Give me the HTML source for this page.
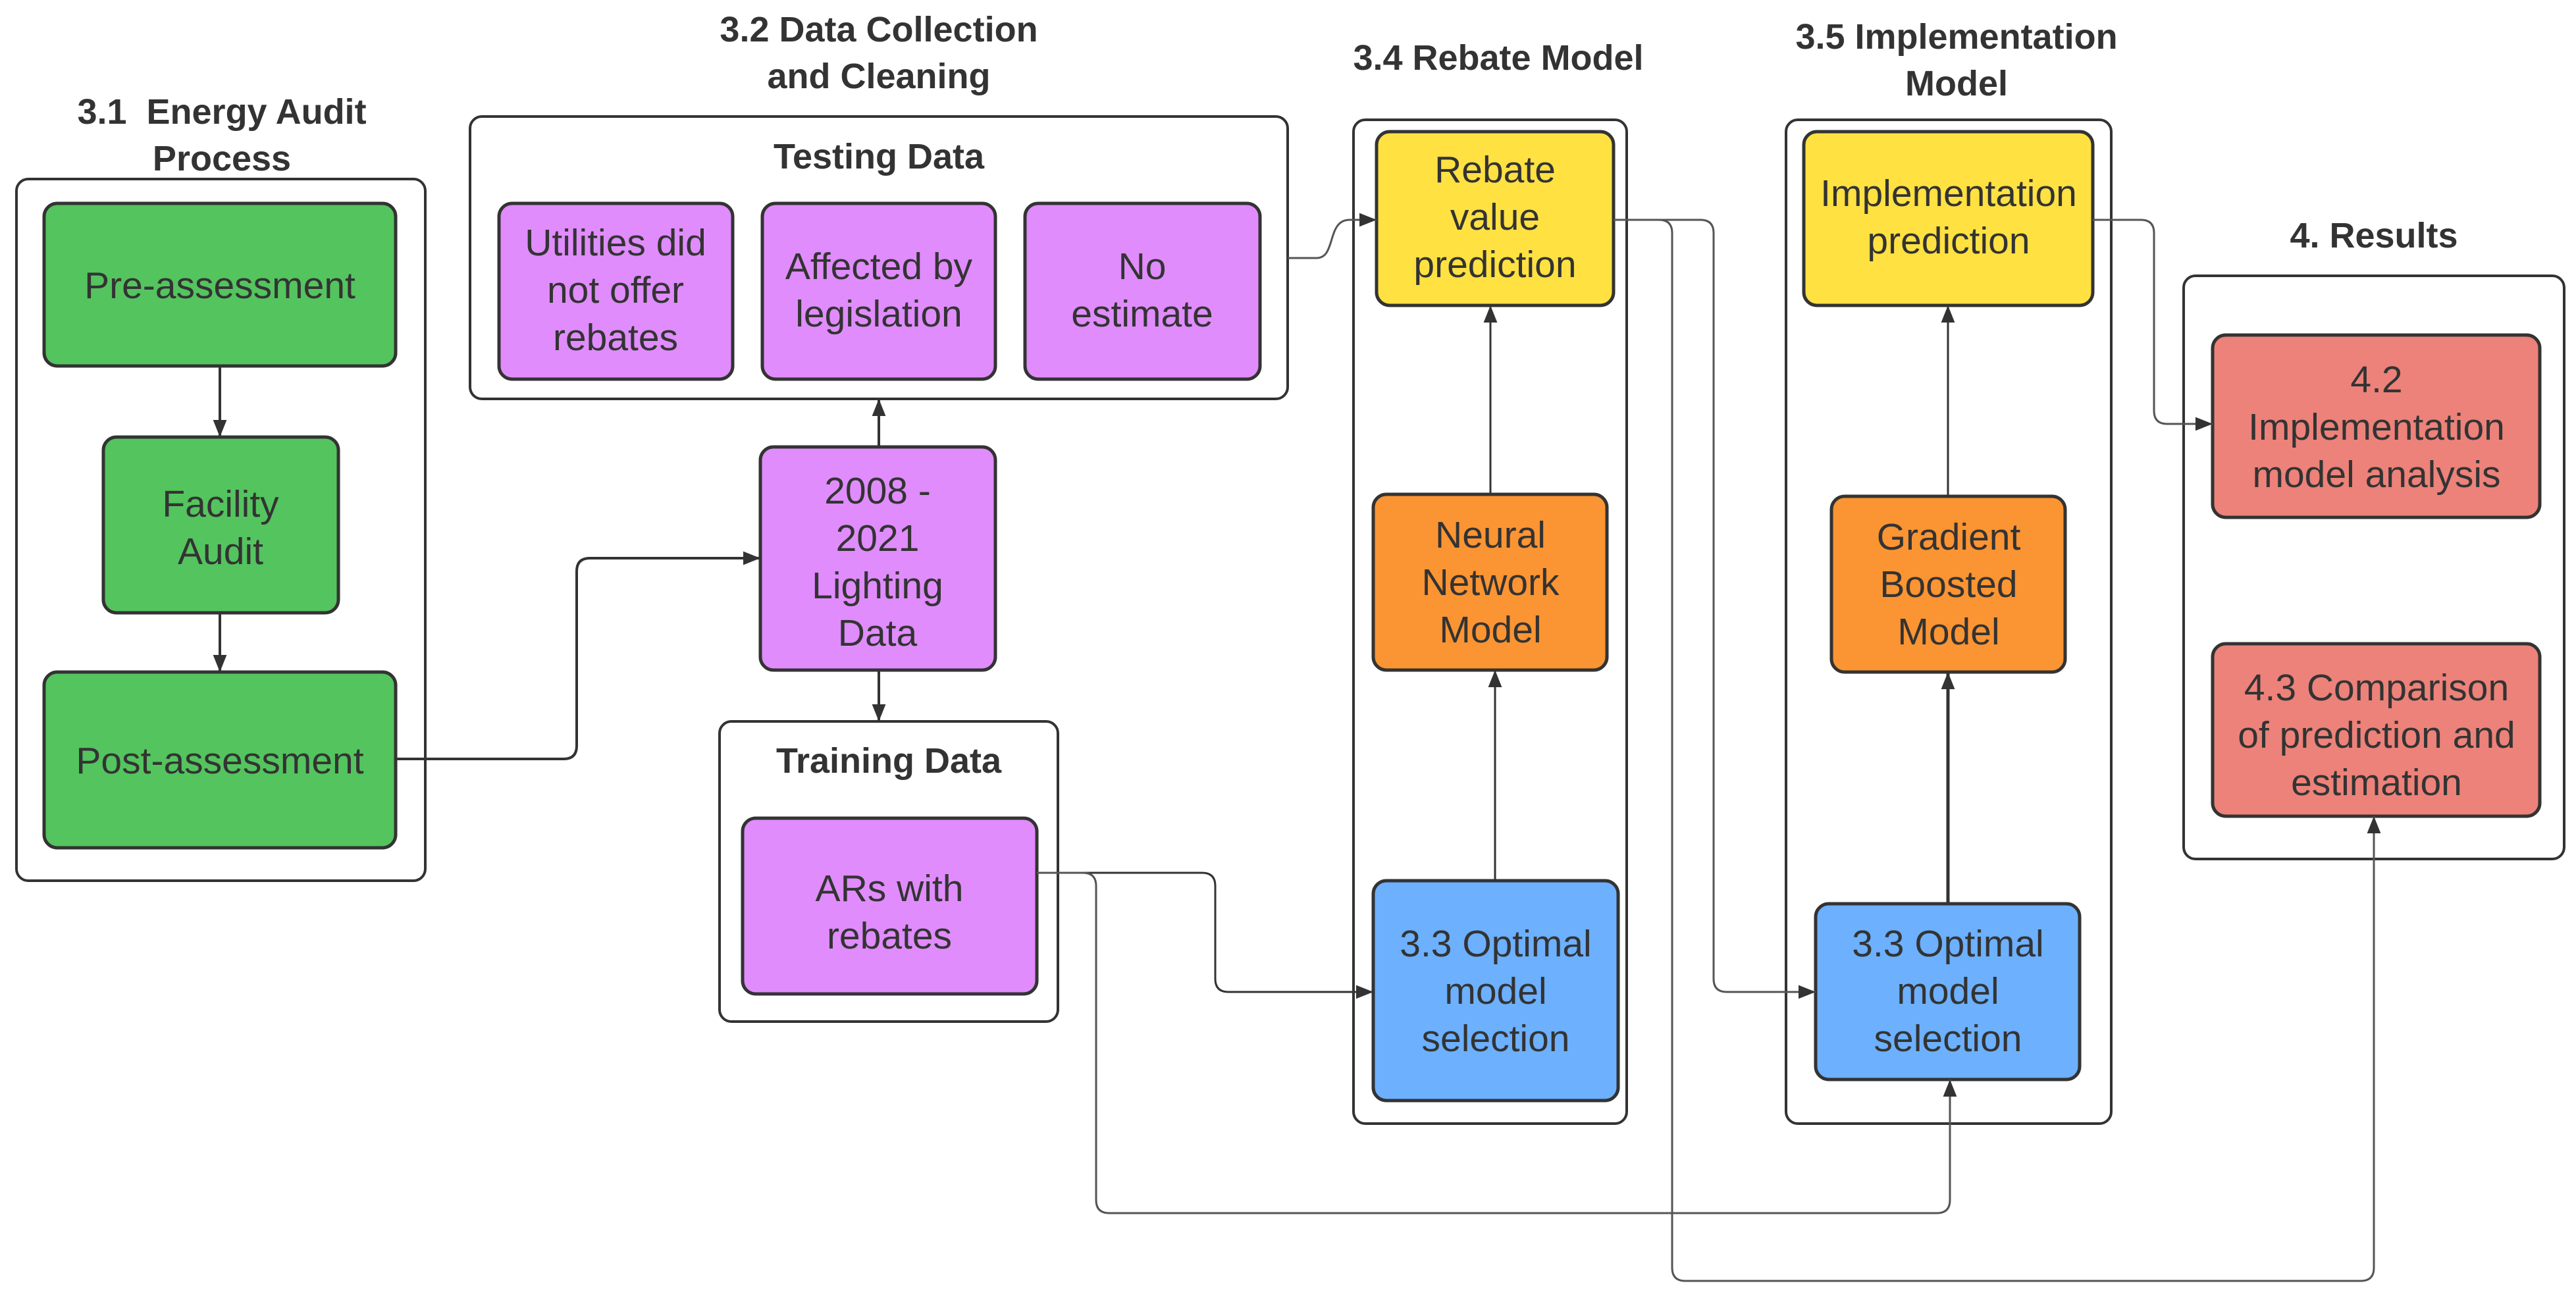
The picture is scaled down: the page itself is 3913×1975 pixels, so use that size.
<!DOCTYPE html>
<html><head><meta charset="utf-8"><style>
html,body{margin:0;padding:0;background:#fff;}
svg{display:block;}
text{font-family:"Liberation Sans",Arial,sans-serif;fill:#333;}
.t{font-weight:bold;font-size:54px;}
.b{font-size:57px;}
</style></head><body>
<svg width="3913" height="1975" viewBox="0 0 3913 1975" xmlns="http://www.w3.org/2000/svg">
<defs>
<marker id="A" viewBox="0 0 10 10" refX="10" refY="5" markerWidth="26" markerHeight="26" orient="auto" markerUnits="userSpaceOnUse"><path d="M0,1 L10,5 L0,9 z" fill="#333"/></marker>
</defs>
<g fill="none" stroke="#333" stroke-width="4">
<rect x="25" y="272" width="621" height="1066" rx="18"/>
<rect x="714" y="177" width="1242" height="429" rx="18"/>
<rect x="1093" y="1096" width="514" height="456" rx="18"/>
<rect x="2056" y="182" width="415" height="1525" rx="18"/>
<rect x="2713" y="182" width="494" height="1525" rx="18"/>
<rect x="3317" y="419" width="578" height="886" rx="18"/>
</g>
<g stroke="#333" stroke-width="5">
<rect x="67" y="309" width="534" height="247" rx="20" fill="#54c45e"/>
<rect x="157" y="664" width="357" height="267" rx="20" fill="#54c45e"/>
<rect x="67" y="1021" width="534" height="267" rx="20" fill="#54c45e"/>
<rect x="758" y="309" width="355" height="267" rx="20" fill="#e08cfc"/>
<rect x="1158" y="309" width="354" height="267" rx="20" fill="#e08cfc"/>
<rect x="1557" y="309" width="357" height="267" rx="20" fill="#e08cfc"/>
<rect x="1155" y="679" width="357" height="339" rx="20" fill="#e08cfc"/>
<rect x="1128" y="1243" width="447" height="267" rx="20" fill="#e08cfc"/>
<rect x="2091" y="200" width="360" height="264" rx="20" fill="#ffe142"/>
<rect x="2086" y="751" width="355" height="267" rx="20" fill="#fb9432"/>
<rect x="2086" y="1338" width="372" height="334" rx="20" fill="#6cb0fe"/>
<rect x="2740" y="200" width="439" height="264" rx="20" fill="#ffe142"/>
<rect x="2782" y="754" width="355" height="267" rx="20" fill="#fb9432"/>
<rect x="2758" y="1373" width="401" height="267" rx="20" fill="#6cb0fe"/>
<rect x="3361" y="509" width="497" height="277" rx="20" fill="#ec8279"/>
<rect x="3361" y="978" width="497" height="262" rx="20" fill="#ec8279"/>
</g>
<g fill="none" stroke="#333" stroke-width="4">
<path d="M334,556 V664" marker-end="url(#A)"/>
<path d="M334,931 V1021" marker-end="url(#A)"/>
<path d="M601,1153 H856 Q876,1153 876,1133 V868 Q876,848 896,848 H1155" marker-end="url(#A)"/>
<path d="M1335,679 V606" marker-end="url(#A)"/>
<path d="M1335,1018 V1096" marker-end="url(#A)"/>
<path d="M2264,751 V464" stroke-width="3" marker-end="url(#A)"/>
<path d="M2271,1338 V1018" stroke-width="3" marker-end="url(#A)"/>
<path d="M2959,754 V464" stroke-width="3" marker-end="url(#A)"/>
<path d="M2959,1373 V1021" stroke-width="5" marker-end="url(#A)"/>
</g>
<g fill="none" stroke="#555" stroke-width="3">
<path d="M1956,392 H2000 C2030,392 2015,334 2050,334 H2091" marker-end="url(#A)"/>
<path d="M1575,1326 H1826 Q1846,1326 1846,1346 V1487 Q1846,1507 1866,1507 H2086" stroke="#333" marker-end="url(#A)"/>
<path d="M1575,1326 H1645 Q1665,1326 1665,1346 V1823 Q1665,1843 1685,1843 H2942 Q2962,1843 2962,1823 V1640" marker-end="url(#A)"/>
<path d="M2451,334 H2520 Q2540,334 2540,354 V1926 Q2540,1946 2560,1946 H3586 Q3606,1946 3606,1926 V1240" marker-end="url(#A)"/>
<path d="M2451,334 H2583 Q2603,334 2603,354 V1487 Q2603,1507 2623,1507 H2758" marker-end="url(#A)"/>
<path d="M3179,334 H3252 Q3272,334 3272,354 V624 Q3272,644 3292,644 H3361" marker-end="url(#A)"/>
</g>
<g text-anchor="middle">
<text class="t" x="337" y="188">3.1&#160; Energy Audit</text>
<text class="t" x="337" y="259">Process</text>
<text class="t" x="1335" y="63">3.2 Data Collection</text>
<text class="t" x="1335" y="134">and Cleaning</text>
<text class="t" x="1335" y="256">Testing Data</text>
<text class="t" x="1350" y="1174">Training Data</text>
<text class="t" x="2276" y="106">3.4 Rebate Model</text>
<text class="t" x="2972" y="74">3.5 Implementation</text>
<text class="t" x="2972" y="145">Model</text>
<text class="t" x="3606" y="376">4. Results</text>
</g>
<g text-anchor="middle">
<text class="b" x="334" y="453">Pre-assessment</text>
<text class="b" x="335" y="785">Facility</text>
<text class="b" x="335" y="857">Audit</text>
<text class="b" x="334" y="1175">Post-assessment</text>
<text class="b" x="935" y="388">Utilities did</text>
<text class="b" x="935" y="460">not offer</text>
<text class="b" x="935" y="532">rebates</text>
<text class="b" x="1335" y="424">Affected by</text>
<text class="b" x="1335" y="496">legislation</text>
<text class="b" x="1735" y="424">No</text>
<text class="b" x="1735" y="496">estimate</text>
<text class="b" x="1333" y="765">2008 -</text>
<text class="b" x="1333" y="837">2021</text>
<text class="b" x="1333" y="909">Lighting</text>
<text class="b" x="1333" y="981">Data</text>
<text class="b" x="1351" y="1369">ARs with</text>
<text class="b" x="1351" y="1441">rebates</text>
<text class="b" x="2271" y="277">Rebate</text>
<text class="b" x="2271" y="349">value</text>
<text class="b" x="2271" y="421">prediction</text>
<text class="b" x="2264" y="832">Neural</text>
<text class="b" x="2264" y="904">Network</text>
<text class="b" x="2264" y="976">Model</text>
<text class="b" x="2272" y="1453">3.3 Optimal</text>
<text class="b" x="2272" y="1525">model</text>
<text class="b" x="2272" y="1597">selection</text>
<text class="b" x="2960" y="313">Implementation</text>
<text class="b" x="2960" y="385">prediction</text>
<text class="b" x="2960" y="835">Gradient</text>
<text class="b" x="2960" y="907">Boosted</text>
<text class="b" x="2960" y="979">Model</text>
<text class="b" x="2959" y="1453">3.3 Optimal</text>
<text class="b" x="2959" y="1525">model</text>
<text class="b" x="2959" y="1597">selection</text>
<text class="b" x="3610" y="596">4.2</text>
<text class="b" x="3610" y="668">Implementation</text>
<text class="b" x="3610" y="740">model analysis</text>
<text class="b" x="3610" y="1064">4.3 Comparison</text>
<text class="b" x="3610" y="1136">of prediction and</text>
<text class="b" x="3610" y="1208">estimation</text>
</g>
</svg>
</body></html>
